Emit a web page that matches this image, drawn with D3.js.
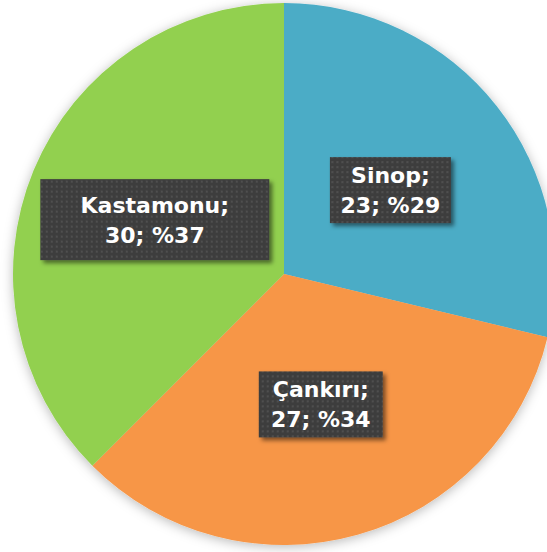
<!DOCTYPE html>
<html>
<head>
<meta charset="utf-8">
<script src="https://cdn.jsdelivr.net/npm/d3@7"></script>
<style>
  body { margin: 0; background: #ffffff; }
  svg { display: block; }
</style>
</head>
<body>
<svg id="chart" width="547" height="552"></svg>
<script>
// data
const cities = ["Sinop", "Çankırı", "Kastamonu"];
const counts = [23, 27, 30];
const percents = [29, 34, 37];
const colors = ["#4bacc6", "#f79646", "#92d050"];

const width = 547;
const height = 552;
const cx = 284, cy = 274, radius = 271;

// label box half-size per slice (w, h) and small nudge from the centroid
const boxPad = [[60.5, 33], [62, 33], [114.5, 40.5]];
const boxNudge = [[0, 0], [0, 0], [-4, -2.5]];

const svg = d3.select("#chart");
const defs = svg.append("defs");

const pieShadow = defs.append("filter").attr("id", "pieShadow")
  .attr("x", "-10%").attr("y", "-10%").attr("width", "120%").attr("height", "120%");
pieShadow.append("feDropShadow")
  .attr("dx", 0).attr("dy", 2).attr("stdDeviation", 6)
  .attr("flood-color", "#000").attr("flood-opacity", 0.28);

const boxShadow = defs.append("filter").attr("id", "boxShadow")
  .attr("x", "-20%").attr("y", "-30%").attr("width", "140%").attr("height", "160%");
boxShadow.append("feDropShadow")
  .attr("dx", 3).attr("dy", 3).attr("stdDeviation", 2)
  .attr("flood-color", "#000").attr("flood-opacity", 0.5);

const dots = defs.append("pattern").attr("id", "dots")
  .attr("patternUnits", "userSpaceOnUse").attr("width", 5).attr("height", 5);
dots.append("rect").attr("width", 5).attr("height", 5).attr("fill", "#3e3e3e");
dots.append("rect").attr("x", 1).attr("y", 1).attr("width", 2).attr("height", 2).attr("fill", "#4f4f4f");

const pie = d3.pie().sort(null).value((d, i) => counts[i]);
const arcs = pie(cities);
const arc = d3.arc().innerRadius(0).outerRadius(radius);

const g = svg.append("g").attr("transform", `translate(${cx},${cy})`);

g.append("g").attr("filter", "url(#pieShadow)")
  .selectAll("path")
  .data(arcs)
  .join("path")
  .attr("d", arc)
  .attr("fill", (d, i) => colors[i]);

const labels = g.selectAll(".lbl")
  .data(arcs)
  .join("g")
  .attr("class", "lbl")
  .attr("transform", (d, i) => {
    const c = arc.centroid(d);
    return `translate(${c[0] + boxNudge[i][0]},${c[1] + boxNudge[i][1]})`;
  });

labels.append("rect")
  .attr("x", (d, i) => -boxPad[i][0])
  .attr("y", (d, i) => -boxPad[i][1])
  .attr("width", (d, i) => boxPad[i][0] * 2)
  .attr("height", (d, i) => boxPad[i][1] * 2)
  .attr("fill", "url(#dots)")
  .attr("filter", "url(#boxShadow)");

const txt = labels.append("text")
  .attr("text-anchor", "middle")
  .attr("font-family", "'DejaVu Sans', Verdana, sans-serif")
  .attr("font-weight", "bold")
  .attr("font-size", "22px")
  .attr("fill", "#ffffff");

txt.append("tspan")
  .attr("x", 0).attr("y", -7)
  .text((d, i) => cities[i] + ";");
txt.append("tspan")
  .attr("x", 0).attr("y", 23)
  .text((d, i) => counts[i] + "; %" + percents[i]);
</script>
</body>
</html>
